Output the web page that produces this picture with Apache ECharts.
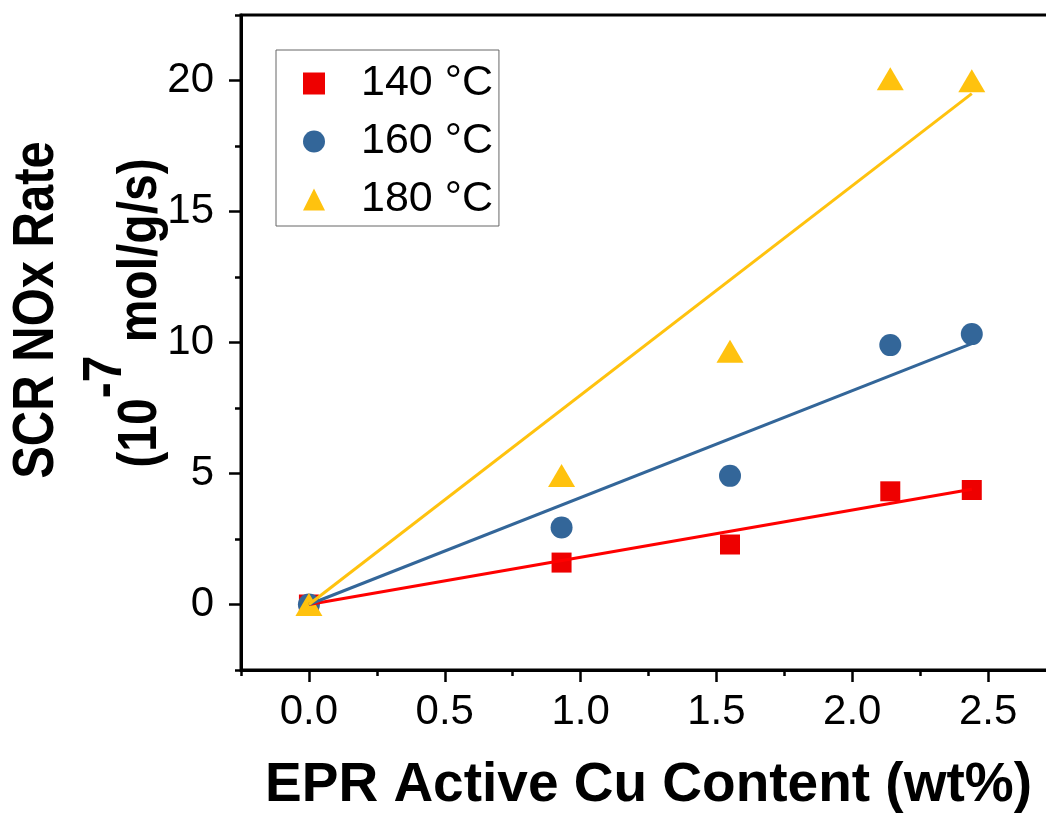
<!DOCTYPE html>
<html><head><meta charset="utf-8">
<script src="https://cdn.jsdelivr.net/npm/echarts@6/dist/echarts.min.js"></script>
<style>html,body{margin:0;padding:0;background:#fff}#c{width:1046px;height:818px}</style>
</head><body><div id="c"></div>
<script>
// ---- data ----
const cuContent = [0, 0.93, 1.55, 2.14, 2.44];
const rate140 = [0, 1.60, 2.29, 4.32, 4.37];
const rate160 = [0, 2.94, 4.91, 9.90, 10.32];
const rate180 = [0, 4.92, 9.67, 20.07, 19.99];
const fitX = [0, 2.44];
const fit140 = [0, 4.40];
const fit160 = [0, 9.96];
const fit180 = [0, 19.5];
const seriesNames = ['140 °C', '160 °C', '180 °C'];
const xMajorTicks = [0, 0.5, 1.0, 1.5, 2.0, 2.5];
const xMinorTicks = [-0.25, 0.25, 0.75, 1.25, 1.75, 2.25, 2.75];
const yMajorTicks = [0, 5, 10, 15, 20];
const yMinorTicks = [-2.5, 2.5, 7.5, 12.5, 17.5, 22.5];
const xTitle = 'EPR Active Cu Content (wt%)';
const yTitle1 = 'SCR NOx Rate';

// ---- styles ----
const FONT = '"Liberation Sans", Arial, Helvetica, sans-serif';
const RED = '#EE0000', BLUE = '#336699', YEL = '#FFC20E';
const pairs = (xs, ys) => xs.map((x, i) => [x, ys[i]]);

const chart = echarts.init(document.getElementById('c'), null, {renderer: 'canvas'});
const axisCommon = {type: 'value', splitLine: {show: false}};
chart.setOption({
  animation: false,
  backgroundColor: '#fff',
  grid: {left: 241, top: 15, width: 815, height: 655, show: true, borderColor: '#000', borderWidth: 3,
         outerBoundsMode: 'none', containLabel: false},
  xAxis: [
    Object.assign({}, axisCommon, {
      position: 'bottom', min: -0.25, max: 2.75,
      axisLine: {show: true, onZero: false, lineStyle: {color: '#000', width: 3}},
      axisTick: {show: true, inside: false, length: 12, customValues: xMajorTicks, lineStyle: {color: '#000', width: 2.5}},
      axisLabel: {show: true, customValues: xMajorTicks, margin: 21, fontSize: 42, fontFamily: FONT, color: '#000',
        formatter: v => v.toFixed(1)},
      name: xTitle, nameLocation: 'middle', nameGap: 88,
      nameTextStyle: {fontSize: 55, fontWeight: 'bold', fontFamily: FONT, color: '#000'}
    }),
    Object.assign({}, axisCommon, {
      position: 'bottom', min: -0.25, max: 2.75,
      axisLine: {show: false, onZero: false},
      axisTick: {show: true, inside: false, length: 6, customValues: xMinorTicks, lineStyle: {color: '#000', width: 2.5}},
      axisLabel: {show: false}
    })
  ],
  yAxis: [
    Object.assign({}, axisCommon, {
      position: 'left', min: -2.5, max: 22.5,
      axisLine: {show: true, onZero: false, lineStyle: {color: '#000', width: 3}},
      axisTick: {show: true, inside: false, length: 12, customValues: yMajorTicks, lineStyle: {color: '#000', width: 2.5}},
      axisLabel: {show: true, customValues: yMajorTicks, margin: 27, fontSize: 42, fontFamily: FONT, color: '#000',
        formatter: v => String(v)}
    }),
    Object.assign({}, axisCommon, {
      position: 'left', min: -2.5, max: 22.5,
      axisLine: {show: false, onZero: false},
      axisTick: {show: true, inside: false, length: 6, customValues: yMinorTicks, lineStyle: {color: '#000', width: 2.5}},
      axisLabel: {show: false}
    })
  ],
  legend: {
    data: seriesNames, orient: 'vertical', left: 276, top: 50,
    padding: [12, 6, 5, 27], itemGap: 15, itemWidth: 22, itemHeight: 22,
    borderColor: '#666', borderWidth: 1, selectedMode: false,
    textStyle: {fontSize: 43, fontFamily: FONT, color: '#000', padding: [0, 0, 0, 31]}
  },
  graphic: [
    {type: 'text', x: 37, y: 310, rotation: Math.PI / 2, scaleY: 1.16,
     style: {text: yTitle1, font: 'bold 49px ' + FONT, fill: '#000', textAlign: 'center', textVerticalAlign: 'middle'}},
    {type: 'text', x: 123, y: 313, rotation: Math.PI / 2, scaleY: 1.16,
     style: {text: '{n|(10}{s|-7}{n| mol/g/s)}', fill: '#000', textAlign: 'center', textVerticalAlign: 'middle',
       rich: {
         n: {font: 'bold 48px ' + FONT, fill: '#000', verticalAlign: 'bottom'},
         s: {font: 'bold 48px ' + FONT, fill: '#000', verticalAlign: 'bottom', padding: [0, 0, 30, 0]}
       }}}
  ],
  series: [
    {name: seriesNames[0], type: 'scatter', symbol: 'rect', symbolSize: 20,
     itemStyle: {color: RED, opacity: 1}, data: pairs(cuContent, rate140), z: 2},
    {name: seriesNames[1], type: 'scatter', symbol: 'circle', symbolSize: 22,
     itemStyle: {color: BLUE, opacity: 1}, data: pairs(cuContent, rate160), z: 2},
    {name: seriesNames[2], type: 'scatter', symbol: 'triangle', symbolSize: [27, 23],
     itemStyle: {color: YEL, opacity: 1}, data: pairs(cuContent, rate180), z: 2},
    {name: 'fit 140', type: 'line', symbol: 'none', lineStyle: {color: '#FF0000', width: 3}, data: pairs(fitX, fit140), z: 5},
    {name: 'fit 160', type: 'line', symbol: 'none', lineStyle: {color: BLUE, width: 3}, data: pairs(fitX, fit160), z: 5},
    {name: 'fit 180', type: 'line', symbol: 'none', lineStyle: {color: YEL, width: 3}, data: pairs(fitX, fit180), z: 5}
  ]
});
</script></body></html>
